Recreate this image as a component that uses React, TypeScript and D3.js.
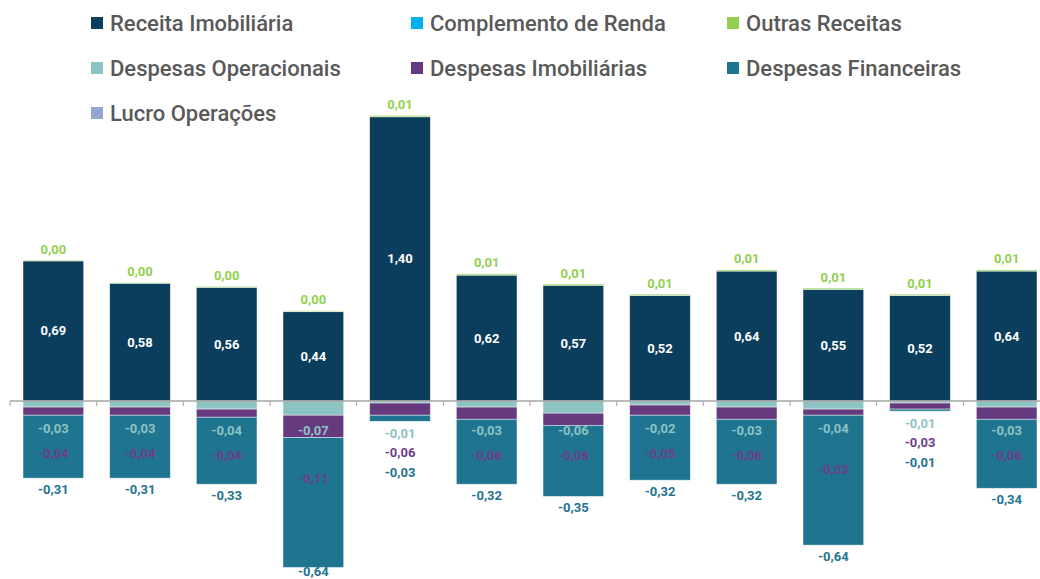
import React from 'react';
import * as d3 from 'd3';

// valores por período (R$/cota)
const periods = ['1', '2', '3', '4', '5', '6', '7', '8', '9', '10', '11', '12'];
const receitaImobiliaria = [0.69, 0.58, 0.56, 0.44, 1.40, 0.62, 0.57, 0.52, 0.64, 0.55, 0.52, 0.64];
const outrasReceitas = [0.004, 0.004, 0.004, 0.004, 0.006, 0.006, 0.006, 0.006, 0.006, 0.006, 0.006, 0.006];
const despOperacionais = [-0.03, -0.03, -0.04, -0.07, -0.01, -0.03, -0.06, -0.02, -0.03, -0.04, -0.01, -0.03];
const despImobiliarias = [-0.04, -0.04, -0.04, -0.11, -0.06, -0.06, -0.06, -0.05, -0.06, -0.03, -0.03, -0.06];
const despFinanceiras = [-0.31, -0.31, -0.33, -0.64, -0.03, -0.32, -0.35, -0.32, -0.32, -0.64, -0.01, -0.34];

const legendItems = [
  { name: 'Receita Imobiliária', color: '#0B3D5C' },
  { name: 'Complemento de Renda', color: '#00B0F0' },
  { name: 'Outras Receitas', color: '#92D050' },
  { name: 'Despesas Operacionais', color: '#8CC3C3' },
  { name: 'Despesas Imobiliárias', color: '#663A7E' },
  { name: 'Despesas Financeiras', color: '#1F7490' },
  { name: 'Lucro Operações', color: '#94A8CF' },
];

const C = {
  receita: '#0B3D5C',
  outras: '#92D050',
  op: '#8CC3C3',
  imob: '#663A7E',
  fin: '#1F7490',
};

const fmt = (v: number) => d3.format('.2f')(v).replace('.', ',').replace('−', '-');

export default function App() {
  const width = 1040;
  const height = 579;

  const x = d3.scaleBand<number>()
    .domain(periods.map((_, i) => i))
    .range([10, 1050])
    .paddingInner(0.3)
    .paddingOuter(0.15);
  const y = d3.scaleLinear().domain([-0.9, 1.5]).range([401 + 0.9 * 203, 401 - 1.5 * 203]);
  const step = x.step();
  const bw = x.bandwidth();
  const font = 'Roboto, "DejaVu Sans", sans-serif';

  return (
    <svg width={width} height={height} style={{ position: 'absolute', left: 0, top: 0 }} fontFamily={font}>
      {/* legenda */}
      {legendItems.map((d, i) => {
        const col = i % 3;
        const row = Math.floor(i / 3);
        const lx = [91, 411, 727][col];
        const ly = 23 + row * 45;
        return (
          <g key={d.name}>
            <rect x={lx} y={ly - 6} width={12} height={12} fill={d.color} />
            <text x={lx + 19} y={ly} dominantBaseline="central" fontSize={22} fontWeight={500} fill="#595959">{d.name}</text>
          </g>
        );
      })}

      {periods.map((p, i) => {
        const bx = x(i) as number;
        const cx = bx + bw / 2;
        const r = receitaImobiliaria[i];
        const o = outrasReceitas[i];
        const op = despOperacionais[i];
        const im = despImobiliarias[i];
        const fi = despFinanceiras[i];
        const finTop = y(op + im);
        const bottom = y(op + im + fi);
        const y0 = y(0);

        let opLbl: number, imLbl: number, fiLbl: number;
        if (bottom - finTop < 30) {
          opLbl = bottom + 12;
          imLbl = opLbl + 19.5;
          fiLbl = imLbl + 19.5;
        } else {
          opLbl = Math.min(finTop + 13, y0 + 29);
          imLbl = opLbl + Math.max(25, (bottom - opLbl) * 0.35);
          fiLbl = Math.min(bottom + 11, 571);
        }

        const segs = [
          { y1: y(r), y2: y(0), c: C.receita },
          { y1: y(r + o), y2: y(r), c: C.outras },
          { y1: y(0), y2: y(op), c: C.op },
          { y1: y(op), y2: y(op + im), c: C.imob },
          { y1: y(op + im), y2: y(op + im + fi), c: C.fin },
        ];
        return (
          <g key={p}>
            {segs.map((s, k) => (
              <rect key={k} x={bx} y={s.y1} width={bw} height={Math.max(0, s.y2 - s.y1)} fill={s.c}
                stroke="#ffffff" strokeOpacity={0.6} strokeWidth={0.75} />
            ))}
            <text x={cx} y={y(r / 2)} textAnchor="middle" dominantBaseline="central" fontSize={13} fontWeight="bold" fill="#ffffff">{fmt(r)}</text>
            <text x={cx} y={y(r + o) - 11} textAnchor="middle" dominantBaseline="central" fontSize={13} fontWeight="bold" fill="#92D050">{fmt(o)}</text>
            <text x={cx} y={opLbl} textAnchor="middle" dominantBaseline="central" fontSize={13} fontWeight="bold" fill={C.op}>{fmt(op)}</text>
            <text x={cx} y={imLbl} textAnchor="middle" dominantBaseline="central" fontSize={13} fontWeight="bold" fill="#6E3D8A">{fmt(im)}</text>
            <text x={cx} y={fiLbl} textAnchor="middle" dominantBaseline="central" fontSize={13} fontWeight="bold" fill={C.fin}>{fmt(fi)}</text>
          </g>
        );
      })}

      {/* eixo */}
      <line x1={10} x2={1040} y1={y(0)} y2={y(0)} stroke="#A6A6A6" strokeWidth={1.5} />
      {d3.range(periods.length + 1).map((k) => (
        <line key={k} x1={10 + k * step} x2={10 + k * step} y1={y(0)} y2={y(0) + 5} stroke="#A6A6A6" strokeWidth={1} />
      ))}
    </svg>
  );
}
